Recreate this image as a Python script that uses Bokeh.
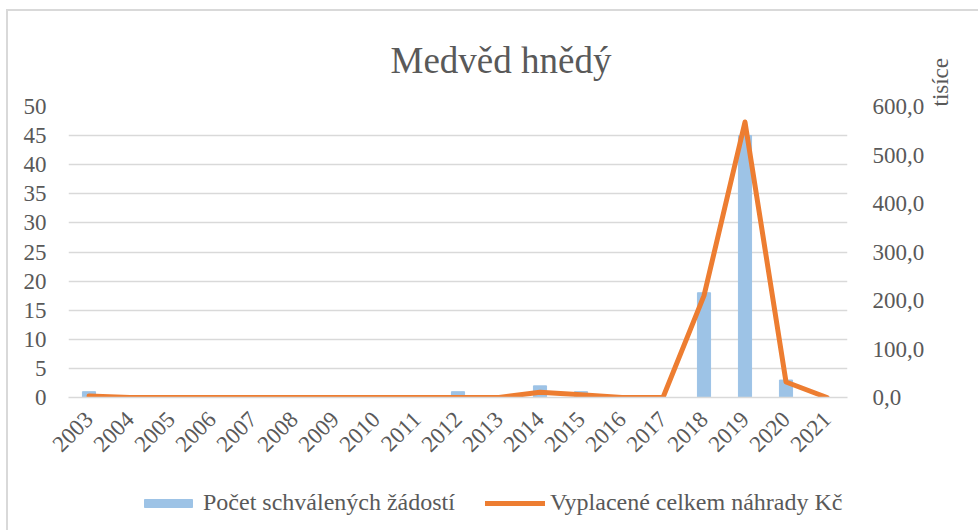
import math
from bokeh.plotting import figure
from bokeh.layouts import column
from bokeh.models import Range1d, LinearAxis, Legend, LegendItem, FixedTicker, ColumnDataSource
from bokeh.embed import file_html
from bokeh.resources import INLINE

# ---- data ----
years = [str(y) for y in range(2003, 2022)]
approved = [1, 0, 0, 0, 0, 0, 0, 0, 0, 1, 0, 2, 1, 0, 0, 18, 45, 3, 0]
paid_thousands = [3, 0, 0, 0, 0, 0, 0, 0, 0, 0, 0, 11, 5.5, 0, 0, 210, 568, 32, 0]
left_ticks = [0, 5, 10, 15, 20, 25, 30, 35, 40, 45, 50]
right_ticks = [0, 100, 200, 300, 400, 500, 600]
right_tick_labels = ["0,0", "100,0", "200,0", "300,0", "400,0", "500,0", "600,0"]
series_names = ["Počet schválených žádostí", "Vyplacené celkem náhrady Kč"]

TXT = "#595959"
GRID = "#d9d9d9"
FONT = "Liberation Serif"
BAR_COLOR = "#9dc3e6"
LINE_COLOR = "#ed7d31"

src = ColumnDataSource(dict(year=years, approved=approved, paid=paid_thousands))

p = figure(x_range=years, y_range=Range1d(0, 50), width=970, height=455,
           output_backend="svg", toolbar_location=None,
           min_border_left=60, min_border_right=131, min_border_top=95, min_border_bottom=69)
p.outline_line_color = None
p.background_fill_color = "white"
p.border_fill_color = "white"

p.extra_y_ranges = {"r": Range1d(0, 600)}

p.vbar(x="year", top="approved", source=src, width=0.32, color=BAR_COLOR)
p.line(x="year", y="paid", source=src, y_range_name="r", line_color=LINE_COLOR,
       line_width=5, line_join="round", line_cap="round")

# left axis
ya = p.yaxis[0]
ya.ticker = FixedTicker(ticks=left_ticks)
ya.axis_line_color = None
ya.major_tick_line_color = None
ya.minor_tick_line_color = None
ya.major_label_text_font = FONT
ya.major_label_text_font_size = "23px"
ya.major_label_text_color = TXT
ya.major_label_standoff = 16

# right axis
ra = LinearAxis(y_range_name="r", ticker=FixedTicker(ticks=right_ticks))
ra.major_label_overrides = {t: s for t, s in zip(right_ticks, right_tick_labels)}
ra.axis_line_color = None
ra.major_tick_line_color = None
ra.minor_tick_line_color = None
ra.major_label_text_font = FONT
ra.major_label_text_font_size = "23px"
ra.major_label_text_color = TXT
ra.major_label_standoff = 19
ra.axis_label = "tisíce"
ra.axis_label_text_font = FONT
ra.axis_label_text_font_size = "23px"
ra.axis_label_text_font_style = "normal"
ra.axis_label_text_color = TXT
ra.axis_label_orientation = math.pi / 2
ra.axis_label_align = "end"
ra.axis_label_standoff = 13
p.add_layout(ra, "right")

# x axis
xa = p.xaxis[0]
xa.axis_line_color = GRID
xa.axis_line_width = 1.5
xa.major_tick_line_color = None
xa.minor_tick_line_color = None
xa.major_label_orientation = math.pi / 4
xa.major_label_text_font = FONT
xa.major_label_text_font_size = "23px"
xa.major_label_text_color = TXT
xa.major_label_standoff = 12

p.xgrid.grid_line_color = None
p.ygrid.grid_line_color = GRID
p.ygrid.grid_line_width = 1.5
p.ygrid.ticker = FixedTicker(ticks=left_ticks)

# title
p.title.text = "Medvěd hnědý"
p.title.text_font = FONT
p.title.text_font_size = "37px"
p.title.text_font_style = "normal"
p.title.text_color = TXT
p.title.align = "left"
p.title.offset = 322
p.title.standoff = 52

# legend strip: the same series as hidden renderers, only their legend swatches show
lg = figure(x_range=years, y_range=Range1d(-1001, -1000), width=970, height=64,
            output_backend="svg", toolbar_location=None,
            x_axis_location=None, y_axis_location=None,
            min_border_left=60, min_border_right=131, min_border_top=0, min_border_bottom=0)
lg.outline_line_color = None
lg.grid.visible = False
sw_bar = lg.vbar(x="year", top="approved", source=src, width=0.32, color=BAR_COLOR)
sw_line = lg.line(x="year", y="paid", source=src, line_color=LINE_COLOR, line_width=5,
                  line_cap="round")
sw_bar.visible = False
sw_line.visible = False

legend = Legend(items=[LegendItem(label=series_names[0], renderers=[sw_bar]),
                       LegendItem(label=series_names[1], renderers=[sw_line])],
                orientation="horizontal", location=(70, 14))
legend.label_text_font = FONT
legend.label_text_font_size = "24px"
legend.label_text_color = TXT
legend.glyph_width = 60
legend.glyph_height = 10
legend.label_standoff = 5
legend.spacing = 30
legend.padding = 0
legend.margin = 0
legend.border_line_color = None
legend.background_fill_alpha = 0
legend.inactive_fill_alpha = 0
lg.add_layout(legend, "center")

layout = column(p, lg, spacing=0)
layout.styles = {"border-left": "2px solid #d9d9d9", "border-top": "2px solid #d9d9d9",
                 "margin-left": "6px", "margin-top": "9px"}

open("out.html", "w").write(file_html(layout, INLINE))
